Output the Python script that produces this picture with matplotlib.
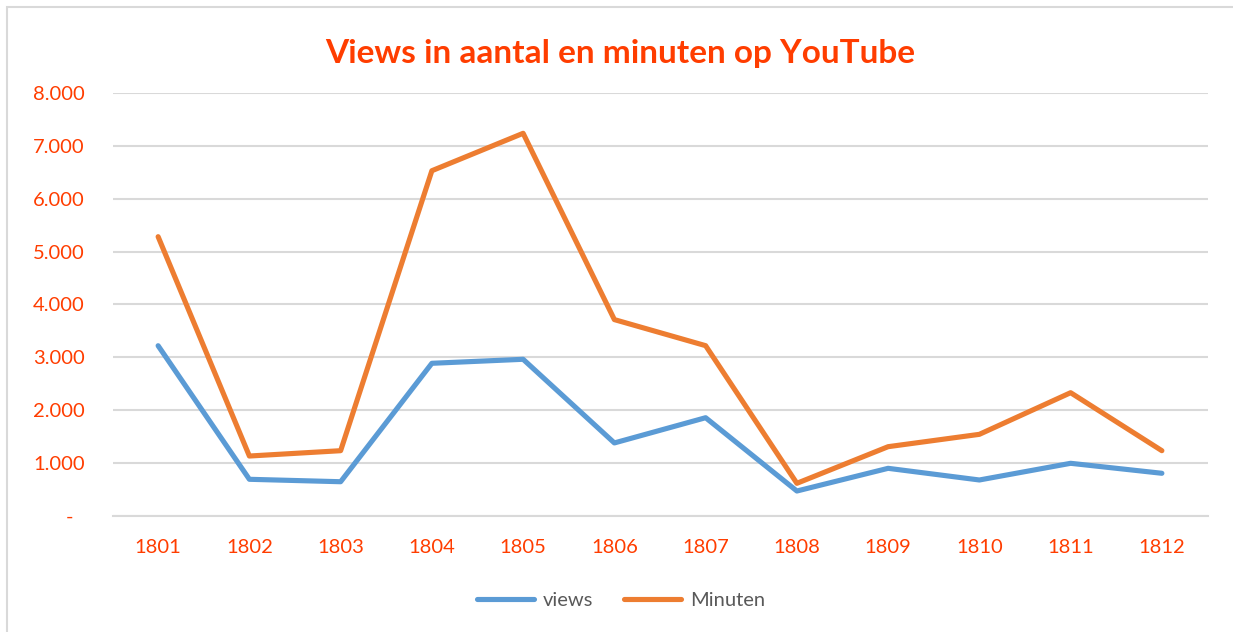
import matplotlib
matplotlib.use("Agg")
import matplotlib.pyplot as plt
from matplotlib.patches import Rectangle
import matplotlib.transforms as mtransforms

plt.rcParams['font.family'] = ['Lato', 'DejaVu Sans']

years = ['1801', '1802', '1803', '1804', '1805', '1806', '1807', '1808', '1809', '1810', '1811', '1812']
views = [3217, 686, 640, 2884, 2960, 1375, 1853, 464, 894, 673, 989, 800]
minuten = [5283, 1127, 1228, 6533, 7242, 3712, 3218, 610, 1304, 1538, 2327, 1228]
y_ticks = [0, 1000, 2000, 3000, 4000, 5000, 6000, 7000, 8000]
y_labels = ['-', '1.000', '2.000', '3.000', '4.000', '5.000', '6.000', '7.000', '8.000']

title = 'Views in aantal en minuten op YouTube'
red = '#FF3D00'
blue = '#5B9BD5'
orange = '#ED7D31'
grid = '#D9D9D9'

W, H = 1233, 632
fig = plt.figure(figsize=(W / 100, H / 100), dpi=100)
fig.patch.set_facecolor('white')

# chart border (light gray) - only left and top edges visible
fig.add_artist(Rectangle((7 / W, -0.05), 1.2, 1 - 7 / H + 0.05, transform=fig.transFigure,
                         fill=False, edgecolor='#D9D9D9', linewidth=1.5))

ax = fig.add_axes([112.5 / W, 1 - 515.5 / H, (1207.5 - 112.5) / W, (515.5 - 93.3) / H])
x = list(range(len(years)))
ax.plot(x, views, color=blue, lw=3.7, solid_capstyle='round', solid_joinstyle='round',
        label='views', zorder=3)
ax.plot(x, minuten, color=orange, lw=3.7, solid_capstyle='round', solid_joinstyle='round',
        label='Minuten', zorder=3)

ax.set_xlim(-0.5, len(years) - 0.5)
ax.set_ylim(0, 8000)
ax.set_xticks(x)
ax.set_xticklabels(years)
ax.set_yticks(y_ticks)
ax.set_yticklabels(y_labels)
ax.tick_params(axis='both', length=0, labelsize=14.5, colors=red)
ax.tick_params(axis='y', pad=20)
ax.tick_params(axis='x', pad=17)
for s in ['top', 'right', 'left']:
    ax.spines[s].set_visible(False)
ax.spines['bottom'].set_color(grid)
ax.spines['bottom'].set_linewidth(1.5)
ax.yaxis.grid(True, color=grid, linewidth=1.5)
ax.set_axisbelow(True)

# shift the "-" label left (accounting-style alignment)
lbl = ax.get_yticklabels()[0]
lbl.set_transform(lbl.get_transform() + mtransforms.ScaledTranslation(-11 / 100, 0, fig.dpi_scale_trans))

fig.text(620 / W, 1 - 63 / H, title, ha='center', va='baseline', fontsize=24,
         fontweight='bold', color=red)

fig.legend(loc='center', bbox_to_anchor=(621 / W, 1 - 600 / H), ncol=2, frameon=False,
           fontsize=14.5, labelcolor='#595959', handlelength=2.8, columnspacing=1.55,
           handletextpad=0.45)

fig.savefig('out.png', dpi=100, facecolor='white')
